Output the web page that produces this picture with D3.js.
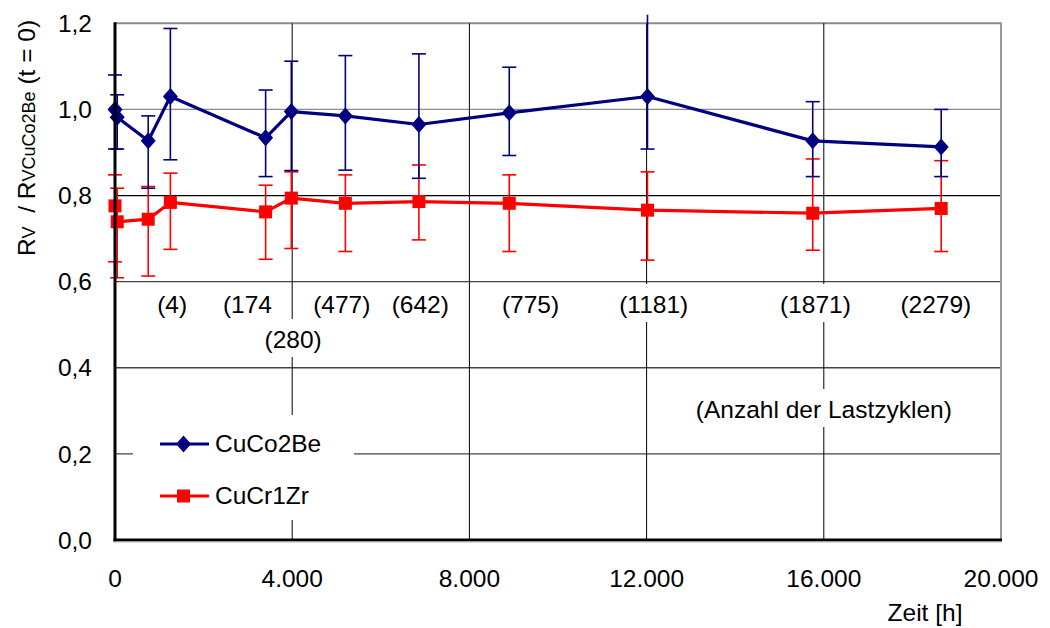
<!DOCTYPE html>
<html>
<head>
<meta charset="utf-8">
<script src="https://cdn.jsdelivr.net/npm/d3@7"></script>
<style>
  html, body { margin: 0; padding: 0; background: #fff; }
  svg { display: block; }
  text { font-family: "Liberation Sans", Arial, sans-serif; fill: #000; }
</style>
</head>
<body>
<svg id="chart" width="1050" height="628"></svg>
<script>
// ---- data ----
const hours      = [0, 50, 750, 1250, 3400, 3980, 5200, 6860, 8900, 12020, 15750, 18650];
const cuCo2Be    = [1.000, 0.982, 0.927, 1.030, 0.934, 0.995, 0.985, 0.965, 0.992, 1.030, 0.927, 0.913];
const cuCo2BeLo  = [0.908, 0.908, 0.817, 0.883, 0.844, 0.858, 0.859, 0.840, 0.893, 0.908, 0.844, 0.844];
const cuCo2BeHi  = [1.080, 1.034, 0.985, 1.188, 1.045, 1.112, 1.125, 1.129, 1.098, 1.220, 1.018, 1.000];
const cuCr1Zr    = [0.776, 0.739, 0.745, 0.784, 0.762, 0.794, 0.782, 0.786, 0.782, 0.766, 0.759, 0.770];
const cuCr1ZrLo  = [0.646, 0.609, 0.613, 0.675, 0.652, 0.677, 0.670, 0.697, 0.670, 0.650, 0.673, 0.670];
const cuCr1ZrHi  = [0.848, 0.817, 0.821, 0.852, 0.824, 0.855, 0.848, 0.871, 0.848, 0.855, 0.885, 0.881];
const seriesNames = ["CuCo2Be", "CuCr1Zr"];
const xTicks = [0, 4000, 8000, 12000, 16000, 20000];
const xTickLabels = ["0", "4.000", "8.000", "12.000", "16.000", "20.000"];
const yTicks = [0, 0.2, 0.4, 0.6, 0.8, 1.0, 1.2];
const yTickLabels = ["0,0", "0,2", "0,4", "0,6", "0,8", "1,0", "1,2"];
const cycleLabels = ["(4)", "(174", "(477)", "(642)", "(775)", "(1181)", "(1871)", "(2279)", "(280)"];
const cycleLabelHours = [1290, 2990, 5120, 6890, 9380, 12160, 15810, 18530, 4020];
const cycleLabelRow = [0, 0, 0, 0, 0, 0, 0, 0, 1];
const noteText = "(Anzahl der Lastzyklen)";
const noteHours = 16000;
const xTitle = "Zeit [h]";

// ---- layout ----
const svg = d3.select("#chart");
const L = 115, R = 1001, T = 23.3, B = 540;
const FS = 24.5;
const x = d3.scaleLinear().domain([0, 20000]).range([L, R]);
const y = d3.scaleLinear().domain([0, 1.2]).range([B, T]);

// horizontal gridlines
const hColor = v => (Math.abs(v - 0.8) < 1e-6 ? "#000" : (v > 0.9 ? "#8a8a8a" : "#444"));
svg.append("g").selectAll("line").data(yTicks.filter(v => v > 0))
  .join("line")
  .attr("x1", L).attr("x2", x(20000))
  .attr("y1", d => y(d)).attr("y2", d => y(d))
  .attr("stroke", d => hColor(d))
  .attr("stroke-width", d => (d > 1.1 ? 2 : 1.3));

// vertical gridlines
svg.append("g").selectAll("line").data(xTicks.filter(v => v > 0 && v < 20000))
  .join("line")
  .attr("x1", d => x(d)).attr("x2", d => x(d))
  .attr("y1", T).attr("y2", B)
  .attr("stroke", "#000").attr("stroke-width", 1);

// right border
svg.append("line").attr("x1", x(20000)).attr("x2", x(20000)).attr("y1", T - 1).attr("y2", B)
  .attr("stroke", "#999").attr("stroke-width", 2);

// text with white box
function boxedText(cx, baseline, txt) {
  const g = svg.append("g");
  const r = g.append("rect").attr("fill", "#fff");
  const t = g.append("text").attr("x", cx).attr("y", baseline)
    .attr("text-anchor", "middle").attr("font-size", FS).text(txt);
  const bb = t.node().getBBox();
  r.attr("x", bb.x - 4).attr("width", bb.width + 8)
   .attr("y", baseline - 29).attr("height", 38);
}
const rowBase = [313, 348];
cycleLabels.forEach((s, i) => boxedText(x(cycleLabelHours[i]), rowBase[cycleLabelRow[i]], s));
boxedText(x(noteHours), 418, noteText);

// legend
const leg = svg.append("g");
leg.append("rect").attr("x", 133).attr("y", 415).attr("width", 221).attr("height", 105).attr("fill", "#fff");

// series
const series = [
  { name: seriesNames[0], v: cuCo2Be, lo: cuCo2BeLo, hi: cuCo2BeHi, color: "#000080", marker: "diamond" },
  { name: seriesNames[1], v: cuCr1Zr, lo: cuCr1ZrLo, hi: cuCr1ZrHi, color: "#ff0000", marker: "square" }
];
const markerPath = (type) => type === "diamond"
  ? "M0,-8.5L7.5,0L0,8.5L-7.5,0Z"
  : "M-6.5,-6.5H6.5V6.5H-6.5Z";

const drawOrder = [series[1], series[0]];
// error bars
drawOrder.forEach(s => {
  const g = svg.append("g").attr("stroke", s.color).attr("stroke-width", 1.6).attr("fill", "none");
  hours.forEach((h, i) => {
    const cx = x(h);
    g.append("line").attr("x1", cx).attr("x2", cx).attr("y1", y(s.lo[i])).attr("y2", y(s.hi[i]));
    g.append("line").attr("x1", cx - 7).attr("x2", cx + 7).attr("y1", y(s.lo[i])).attr("y2", y(s.lo[i]));
    if (s.hi[i] <= 1.2) {
      g.append("line").attr("x1", cx - 7).attr("x2", cx + 7).attr("y1", y(s.hi[i])).attr("y2", y(s.hi[i]));
    }
  });
});
// lines + markers
drawOrder.forEach(s => {
  const line = d3.line().x((d, i) => x(hours[i])).y(d => y(d));
  svg.append("path").datum(s.v).attr("d", line)
    .attr("fill", "none").attr("stroke", s.color).attr("stroke-width", 3.2)
    .attr("stroke-linejoin", "round");
  svg.append("g").selectAll("path").data(s.v).join("path")
    .attr("transform", (d, i) => `translate(${x(hours[i])},${y(d)})`)
    .attr("d", markerPath(s.marker)).attr("fill", s.color);
});

// legend entries
series.forEach((s, i) => {
  const ly = [444, 496][i];
  leg.append("line").attr("x1", 160).attr("x2", 209).attr("y1", ly).attr("y2", ly)
    .attr("stroke", s.color).attr("stroke-width", 3);
  leg.append("path").attr("transform", `translate(183.5,${ly})`).attr("d", markerPath(s.marker)).attr("fill", s.color);
  leg.append("text").attr("x", 215).attr("y", ly + 8).attr("font-size", FS).text(s.name);
});

// axes lines (thick)
svg.append("line").attr("x1", L).attr("x2", L).attr("y1", T - 1).attr("y2", B + 1.5)
  .attr("stroke", "#000").attr("stroke-width", 3);
svg.append("line").attr("x1", L - 1.5).attr("x2", x(20000) + 1).attr("y1", B).attr("y2", B)
  .attr("stroke", "#000").attr("stroke-width", 3);
svg.append("line").attr("x1", L - 1.5).attr("x2", x(20000) + 1).attr("y1", B + 2).attr("y2", B + 2)
  .attr("stroke", "#bbb").attr("stroke-width", 1);

// tick labels
svg.append("g").selectAll("text").data(xTicks).join("text")
  .attr("x", d => x(d)).attr("y", 587).attr("text-anchor", "middle")
  .attr("font-size", FS).text((d, i) => xTickLabels[i]);
svg.append("g").selectAll("text").data(yTicks).join("text")
  .attr("x", 92).attr("y", d => y(d) + 8.7).attr("text-anchor", "end")
  .attr("font-size", FS).text((d, i) => yTickLabels[i]);

// axis titles
svg.append("text").attr("x", 925).attr("y", 621).attr("text-anchor", "middle")
  .attr("font-size", FS).text(xTitle);
const yt = svg.append("text").attr("transform", "translate(35,138) rotate(-90)")
  .attr("text-anchor", "middle").attr("font-size", FS);
yt.append("tspan").text("R");
yt.append("tspan").attr("font-size", 18).text("V");
yt.append("tspan").text("  / R").attr("xml:space", "preserve");
yt.append("tspan").attr("font-size", 18).text("VCuCo2Be");
yt.append("tspan").text(" (t = 0)");
</script>
</body>
</html>
